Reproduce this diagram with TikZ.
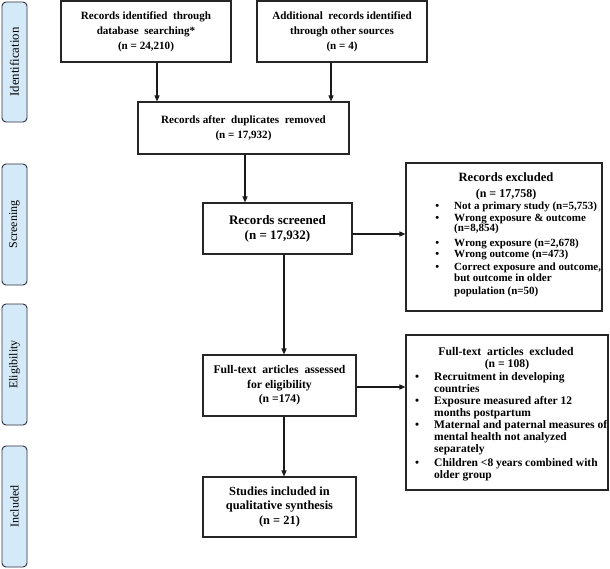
\documentclass[tikz,border=0pt]{standalone}
\usepackage{fontspec}
\setmainfont{Liberation Serif}
\usetikzlibrary{arrows.meta}
\definecolor{sidefill}{HTML}{D5EAF8}
\definecolor{sideline}{HTML}{2E3040}
\newcommand{\fsz}[2]{\fontsize{#1}{#2}\selectfont}
\newcommand{\bul}{\makebox[6pt]{\textbullet}}
\begin{document}
\begin{tikzpicture}[x=1pt,y=-1pt,
  box/.style={draw=black!85, line width=1.1pt, fill=white, align=center, inner sep=2pt,
    font=\bfseries\fsz{11.1}{15}},
  exbox/.style={draw=black!85, line width=1.1pt, fill=white, inner sep=0pt},
  txt/.style={inner sep=0pt, anchor=base west},
  ttl/.style={inner sep=0pt, anchor=base},
  side/.style={draw=sideline, line width=0.9pt, fill=sidefill, rounded corners=4pt,
    minimum width=121pt, minimum height=25pt, rotate=90,
    font=\fsz{12}{14}},
  arr/.style={-{Triangle[length=6pt,width=5pt]}, line width=1.2pt, black!90}]
\useasboundingbox (0,0) rectangle (610,569);
% side labels
\node[side, minimum width=120pt, font=\fsz{12.8}{14}] (sid) at (14.5,62) {Identification};
\node[side] (sscr) at (14.5,224.5) {Screening};
\node[side] (sel) at (14.5,364.5) {Eligibility};
\node[side] (sinc) at (14.5,506.5) {Included};
% main boxes
\node[box, minimum width=170pt, minimum height=61pt] (b1) at (146,31.5)
  {Records identified\ \ through\\database\ \ searching*\\(n = 24,210)};
\node[box, minimum width=170pt, minimum height=61pt] (b2) at (342,31.5)
  {Additional\ \ records identified\\through other sources\\(n = 4)};
\node[box, minimum width=211pt, minimum height=52pt] (b3) at (243.5,128)
  {Records after\ \ duplicates\ \ removed\\(n = 17,932)};
\node[box, font=\bfseries\fsz{13}{15}, minimum width=149pt, minimum height=51pt] (b4) at (277.5,228.5)
  {Records screened\\(n = 17,932)};
\node[box, font=\bfseries\fsz{11.7}{14.5}, minimum width=153pt, minimum height=61pt] (b5) at (279.5,385.5)
  {Full-text\ \ articles\ \ assessed\\for eligibility\\(n =174)};
\node[box, font=\bfseries\fsz{12.4}{14.5}, minimum width=153pt, minimum height=60pt] (b6) at (279.5,507)
  {Studies included in\\qualitative synthesis\\(n = 21)};
% exclusion box 1
\node[exbox, minimum width=196pt, minimum height=148pt] (ex1) at (504,237) {};
\node[ttl, font=\bfseries\fsz{12.6}{14}] (ex1a) at (506,182) {Records excluded};
\node[ttl, font=\bfseries\fsz{12}{14}] (ex1b) at (506,198) {(n = 17,758)};
\node[txt, font=\bfseries\fsz{11}{12}] (ex1c) at (434,210) {%
  \begin{tabular}[t]{@{}p{20pt}@{}l@{}}
  \bul & Not a primary study (n=5,753)\\
  \bul & Wrong exposure \& outcome\\[-2pt]
   & (n=8,854)\\[3pt]
  \bul & Wrong exposure (n=2,678)\\[-1pt]
  \bul & Wrong outcome (n=473)\\[1pt]
  \bul & Correct exposure and outcome,\\[-1pt]
   & but outcome in older\\[1pt]
   & population (n=50)
  \end{tabular}};
% exclusion box 2
\node[exbox, minimum width=202pt, minimum height=155pt] (ex2) at (507,412.5) {};
\node[ttl, font=\bfseries\fsz{11.7}{12}] (ex2a) at (506,355) {Full-text\ \ articles\ \ excluded};
\node[ttl, font=\bfseries\fsz{11.7}{12}] (ex2b) at (507,367.5) {(n = 108)};
\node[txt, font=\bfseries\fsz{11.5}{12}] (ex2c) at (414,380) {%
  \begin{tabular}[t]{@{}p{20pt}@{}l@{}}
  \bul & Recruitment in developing\\
   & countries\\
  \bul & Exposure measured after 12\\
   & months postpartum\\
  \bul & Maternal and paternal measures of\\
   & mental health not analyzed\\
   & separately\\[2pt]
  \bul & Children <8 years combined with\\
   & older group
  \end{tabular}};
% arrows
\draw[arr] ([xshift=11pt]b1.south) -- ([xshift=11pt]b1.south |- b3.north);
\draw[arr] ([xshift=-11pt]b2.south) -- ([xshift=-11pt]b2.south |- b3.north);
\draw[arr] ([xshift=1.5pt]b3.south) -- ([xshift=1.5pt]b3.south |- b4.north);
\draw[arr] ([xshift=6.5pt]b4.south) -- ([xshift=6.5pt]b4.south |- b5.north);
\draw[arr] ([xshift=4.5pt]b5.south) -- ([xshift=4.5pt]b5.south |- b6.north);
\draw[arr] ([yshift=-5.5pt]b4.east) -- ([yshift=-5.5pt]b4.east -| ex1.west);
\draw[arr] ([yshift=-1.5pt]b5.east) -- ([yshift=-1.5pt]b5.east -| ex2.west);
\end{tikzpicture}
\end{document}
